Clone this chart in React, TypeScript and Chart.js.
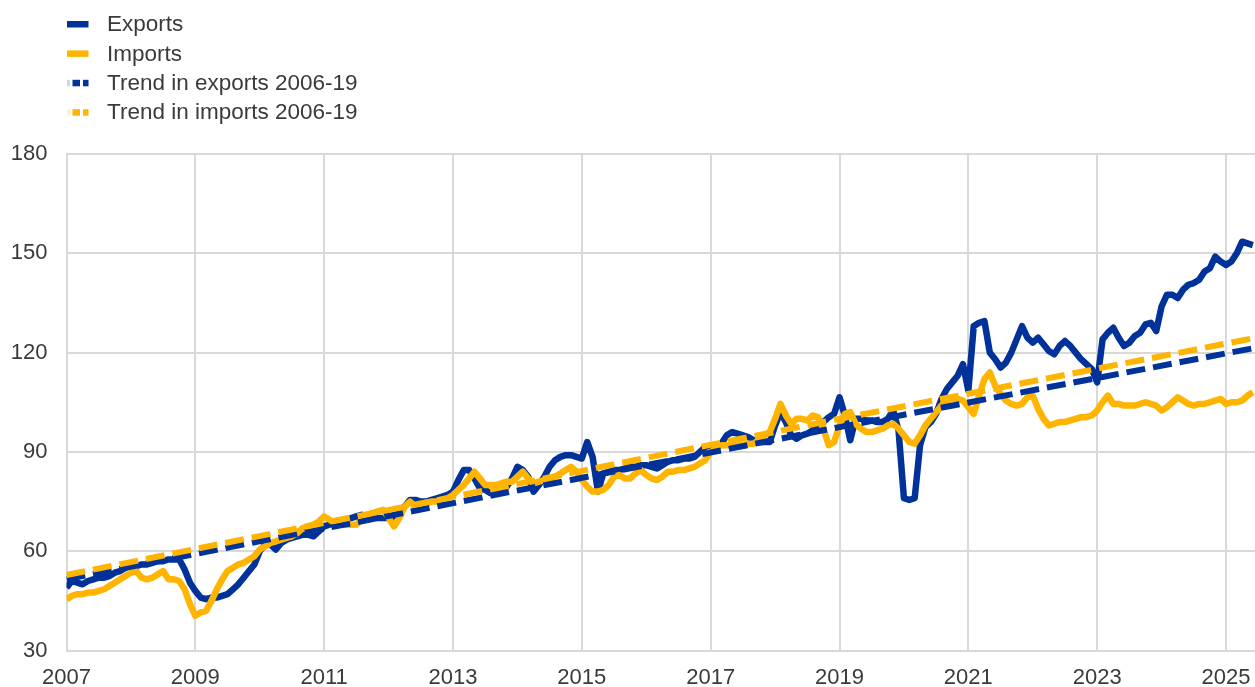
import React, { useEffect, useRef } from 'react';
import { Chart, registerables } from 'chart.js';

Chart.register(...registerables);

// Monthly index values, January 2007 onwards (one row per year)
const startYear = 2007;

const exportsValues = [
  49, 51, 50.5, 50, 51, 51.5, 52, 52, 52.5, 53.5, 54, 55,
  55.5, 55.5, 56, 56, 56.5, 57, 57, 57.5, 57.5, 57.5, 54.5, 50.5,
  48, 46, 45.5, 46, 46, 46.5, 47, 48.5, 50, 52, 54, 56,
  60, 62, 62, 60.5, 62.5, 63.5, 64, 64.5, 65, 65, 64.5, 66,
  67.5, 68, 68.5, 69, 69.5, 70, 70.5, 71, 70.5, 70.5, 70, 70,
  70, 70.5, 71.5, 73.5, 75.5, 75.5, 75, 75, 75.5, 76, 76.5, 77,
  78, 81.5, 84.5, 84.5, 82, 79, 78.5, 77.5, 77.5, 78.5, 79.5, 82,
  85.5, 84.5, 82.5, 78, 80, 82.5, 85.5, 87.5, 88.5, 89, 89, 88.5,
  88, 93, 88.5, 78, 83.5, 84, 84.5, 84.5, 85, 85.5, 85.5, 86,
  86, 85.5, 85, 86, 87, 87.5, 87.5, 88, 88, 88.5, 90, 91.5,
  92, 91, 92.5, 95, 96, 95.5, 95, 94.5, 93.5, 93, 93, 93,
  98, 102, 99, 95, 94, 95, 95.5, 96.5, 98, 99, 100.5, 101.5,
  106.5, 101, 93.5, 100, 100, 99.5, 99.5, 99, 99, 100, 102.5, 96.5,
  76, 75.5, 76, 92, 97.5, 99, 101.5, 106, 109, 111, 113, 116.5,
  108.5, 128, 129, 129.5, 120, 118, 115.5, 117, 120, 124, 128, 124.5,
  123, 124.5, 122.5, 120.5, 119.5, 122, 123.5, 122, 120, 118, 116.5, 115,
  111, 124, 126, 127.5, 124.5, 122, 123, 125, 126, 128.5, 129, 126.5,
  134, 137.5, 137.5, 136.5, 139, 140.5, 141, 142, 144.5, 145.5, 149, 147.5,
  146.5, 147.5, 150, 153.5, 153, 152.5,
];

const importsValues = [
  45.5, 46.5, 47, 47, 47.5, 47.5, 48, 48.5, 49.5, 50.5, 51.5, 52.5,
  53.5, 54, 52, 51.5, 52, 53, 54, 51.5, 51.5, 51, 48.5, 44,
  40.5, 41.5, 42, 45, 48.5, 51.5, 54, 55, 56, 56.5, 57.5, 58.5,
  60.5, 61.5, 62.5, 63, 63.5, 64, 64.5, 65.5, 67, 67.5, 68, 69,
  70.5, 69.5, 68.5, 68, 68, 68, 68, 69.5, 71, 71.5, 72, 72.5,
  70, 67.5, 70, 73.5, 75, 73.5, 74, 74.5, 75, 75, 75.5, 76,
  77, 78.5, 80, 82, 84, 82, 80, 80, 80, 80.5, 81, 81,
  82.5, 84, 82, 80.5, 81, 81.5, 81.5, 82.5, 83.5, 84.5, 85.5, 84,
  81.5, 79.5, 78, 78, 78.5, 80, 82.5, 83, 82, 82, 83.5, 84.5,
  83, 82, 81.5, 82.5, 84, 84, 84.5, 84.5, 85, 85.5, 86.5, 87.5,
  90, 91, 92, 92, 92, 92, 92, 92.5, 92.5, 93.5, 95, 96,
  100, 104.5, 101, 98.5, 100, 100, 99.5, 101, 100.5, 97, 92, 93,
  98, 101.5, 102, 98.5, 97, 96, 96, 96.5, 97, 98, 98.5, 97,
  95, 93, 92.5, 95, 98, 100, 102, 104, 105.5, 106, 106, 105.5,
  103.5, 101.5, 107, 112, 114, 110, 107.5, 105.5, 104.5, 104, 104.5, 106.5,
  107, 103, 100, 98, 98.5, 99, 99, 99.5, 100, 100.5, 100.5, 101,
  102.5, 105, 107, 104.5, 104.5, 104, 104, 104, 104.5, 105, 104.5, 104,
  102.5, 103.5, 105, 106.5, 105.5, 104.5, 104, 104.5, 104.5, 105, 105.5, 106,
  104.5, 105, 105, 105.5, 107, 108,
];

// Linear trends (months since Jan 2007)
const trendMonths = [0, 144, 221];
const trendExports = [51.5, 97.5, 121.3];
const trendImports = [52.8, 100, 124.3];

const xTickYears = [2007, 2009, 2011, 2013, 2015, 2017, 2019, 2021, 2023, 2025];
const yTickValues = [30, 60, 90, 120, 150, 180];

const seriesLabels = [
  'Exports',
  'Imports',
  'Trend in exports 2006-19',
  'Trend in imports 2006-19',
];

const BLUE = '#003299';
const YELLOW = '#FFB400';
const GRID = '#d9d9d9';
const TEXT = '#3a3a3a';
const FONT = 'Arial, "Liberation Sans", sans-serif';

const legendPlugin = {
  id: 'stackedLegend',
  afterDraw(chart: any) {
    const ctx = chart.ctx as CanvasRenderingContext2D;
    ctx.save();
    ctx.font = `22.5px ${FONT}`;
    ctx.textBaseline = 'middle';
    ctx.textAlign = 'left';
    chart.data.datasets.forEach((ds: any, i: number) => {
      const cy = 24 + i * 29.4;
      const color = ds.borderColor;
      ctx.fillStyle = color;
      if (ds.borderDash && ds.borderDash.length) {
        ctx.globalAlpha = 0.2;
        ctx.fillRect(67, cy - 3, 3, 6.5);
        ctx.globalAlpha = 1;
        ctx.fillRect(72.5, cy - 3, 7.5, 6.5);
        ctx.fillRect(83, cy - 3, 5.5, 6.5);
      } else {
        ctx.fillRect(67, cy - 3, 21.5, 6.5);
      }
      ctx.fillStyle = TEXT;
      ctx.fillText(ds.label, 107, cy + 1);
    });
    ctx.restore();
  },
};

export default function App() {
  const canvasRef = useRef<HTMLCanvasElement>(null);

  useEffect(() => {
    document.body.style.margin = '0';
    const canvas = canvasRef.current;
    if (!canvas) return;

    const toPoints = (vals: number[]) => vals.map((v, i) => ({ x: i, y: v }));
    const trendPoints = (vals: number[]) => vals.map((v, i) => ({ x: trendMonths[i], y: v }));
    const lastMonth = exportsValues.length - 1;

    const chart = new Chart(canvas, {
      type: 'line',
      data: {
        datasets: [
          {
            label: seriesLabels[0],
            data: toPoints(exportsValues),
            borderColor: BLUE,
            backgroundColor: BLUE,
            borderWidth: 6.5,
            pointRadius: 0,
            tension: 0,
            borderJoinStyle: 'round',
            order: 3,
          },
          {
            label: seriesLabels[1],
            data: toPoints(importsValues),
            borderColor: YELLOW,
            backgroundColor: YELLOW,
            borderWidth: 6.5,
            pointRadius: 0,
            tension: 0,
            borderJoinStyle: 'round',
            order: 2,
          },
          {
            label: seriesLabels[2],
            data: trendPoints(trendExports),
            borderColor: BLUE,
            backgroundColor: BLUE,
            borderWidth: 6,
            borderDash: [19, 8],
            pointRadius: 0,
            tension: 0,
            order: 1,
          },
          {
            label: seriesLabels[3],
            data: trendPoints(trendImports),
            borderColor: YELLOW,
            backgroundColor: YELLOW,
            borderWidth: 6,
            borderDash: [19, 8],
            pointRadius: 0,
            tension: 0,
            order: 0,
          },
        ],
      },
      options: {
        responsive: false,
        animation: false,
        devicePixelRatio: 1,
        layout: { padding: { top: 154, left: 0, right: 0, bottom: 0 } },
        plugins: {
          legend: { display: false },
          tooltip: { enabled: false },
        },
        scales: {
          x: {
            type: 'linear',
            min: 0,
            max: lastMonth + 0.4,
            afterFit: (scale: any) => {
              scale.height = 36.5;
              scale.paddingRight = 0;
              scale.paddingLeft = 0;
            },
            grid: { color: GRID, lineWidth: 2, drawTicks: false },
            border: { display: true, color: GRID, width: 2 },
            ticks: {
              stepSize: 24,
              includeBounds: false,
              autoSkip: false,
              maxRotation: 0,
              padding: 14,
              color: TEXT,
              font: { family: FONT, size: 22 },
              callback: (value: any) => {
                const yr = startYear + Number(value) / 12;
                return xTickYears.includes(yr) ? String(yr) : '';
              },
            },
          },
          y: {
            type: 'linear',
            min: yTickValues[0],
            max: yTickValues[yTickValues.length - 1],
            afterFit: (scale: any) => {
              scale.width = 66.5;
            },
            grid: { color: GRID, lineWidth: 2, drawTicks: false },
            border: { display: true, color: GRID, width: 2 },
            ticks: {
              stepSize: yTickValues[1] - yTickValues[0],
              padding: 19,
              color: TEXT,
              font: { family: FONT, size: 22 },
            },
          },
        },
      },
      plugins: [legendPlugin],
    } as any);

    return () => chart.destroy();
  }, []);

  return (
    <div style={{ width: 1255, height: 687, position: 'relative' }}>
      <canvas ref={canvasRef} width={1255} height={687} style={{ display: 'block' }} />
    </div>
  );
}
